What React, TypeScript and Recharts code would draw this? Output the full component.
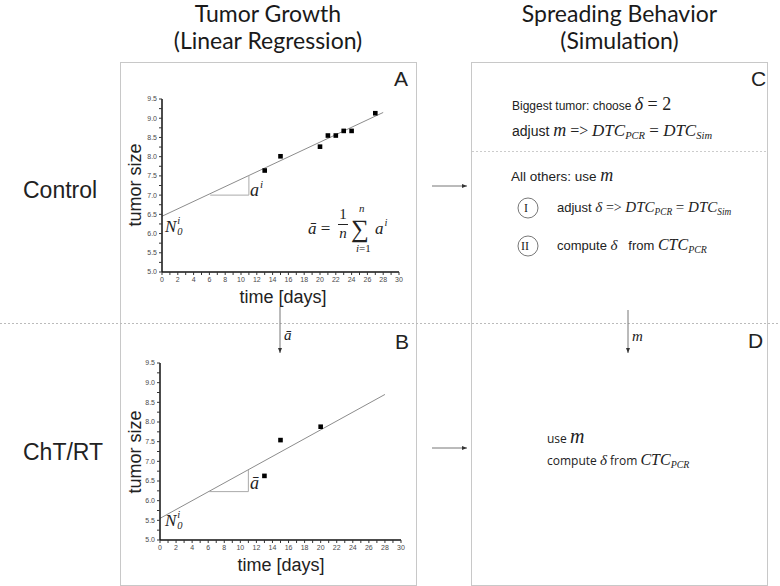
import React from "react"
import { ReferenceLine, Scatter, ScatterChart, XAxis, YAxis } from "recharts"

// tick positions (minor ticks get an empty label)
const xTicks = [0, 1, 2, 3, 4, 5, 6, 7, 8, 9, 10, 11, 12, 13, 14, 15, 16, 17, 18, 19, 20, 21, 22, 23, 24, 25, 26, 27, 28, 29, 30]
const yTicks = [5, 5.25, 5.5, 5.75, 6, 6.25, 6.5, 6.75, 7, 7.25, 7.5, 7.75, 8, 8.25, 8.5, 8.75, 9, 9.25, 9.5]

// panel A: control
const controlDays = [13, 15, 20, 21, 22, 23, 24, 27]
const controlSize = [7.64, 8.01, 8.26, 8.55, 8.55, 8.67, 8.67, 9.13]
const controlFitDays = [0, 28]
const controlFitSize = [6.45, 9.15]
const controlSlopeDays = [6.1, 11, 11]
const controlSlopeSize = [7.0, 7.0, 7.52]

// panel B: ChT/RT
const treatedDays = [13, 15, 20]
const treatedSize = [6.63, 7.54, 7.88]
const treatedFitDays = [0, 28]
const treatedFitSize = [5.55, 8.7]
const treatedSlopeDays = [6.1, 11, 11]
const treatedSlopeSize = [6.23, 6.23, 6.78]

const zip = (xs: number[], ys: number[]) => xs.map((x, i) => ({ x, y: ys[i] }))

const SANS = "'Liberation Sans', Arial, sans-serif"
const MATH = "'Liberation Serif', 'Times New Roman', serif"
const HEAD = "Lato, 'Open Sans', sans-serif"
const GRID = "#c8c8c8"

const Square = (p: any) => (
  <rect x={p.cx - 2.3} y={p.cy - 2.3} width={4.6} height={4.6} fill="#000" />
)

const fmtX = (v: number) => (v % 2 === 0 ? String(v) : "")
const fmtY = (v: number) => (Math.abs(v * 2 - Math.round(v * 2)) < 1e-6 ? v.toFixed(1) : "")

const tickStyle = { fontSize: 7, fill: "#4a4a4a", stroke: "none", fontFamily: SANS }

interface GrowthProps {
  days: number[]
  size: number[]
  fitDays: number[]
  fitSize: number[]
  slopeDays: number[]
  slopeSize: number[]
  width: number
  height: number
  margin: { top: number; right: number; bottom: number; left: number }
  yWidth: number
}

function GrowthChart(props: GrowthProps) {
  const fit = zip(props.fitDays, props.fitSize)
  const slope = zip(props.slopeDays, props.slopeSize)
  return (
    <ScatterChart width={props.width} height={props.height} margin={props.margin}>
      <XAxis
        type="number"
        dataKey="x"
        domain={[0, 30]}
        ticks={xTicks}
        interval={0}
        tickFormatter={fmtX}
        tickSize={3}
        tickMargin={2}
        height={30}
        axisLine={{ stroke: "#111", strokeWidth: 1.5 }}
        tickLine={{ stroke: "#333" }}
        tick={tickStyle}
      />
      <YAxis
        type="number"
        dataKey="y"
        domain={[5, 9.5]}
        ticks={yTicks}
        interval={0}
        tickFormatter={fmtY}
        tickSize={3}
        tickMargin={2}
        width={props.yWidth}
        axisLine={{ stroke: "#111", strokeWidth: 1.5 }}
        tickLine={{ stroke: "#333" }}
        tick={tickStyle}
      />
      <ReferenceLine segment={[fit[0], fit[1]]} stroke="#8c8c8c" strokeWidth={1} ifOverflow="visible" />
      <ReferenceLine segment={[slope[0], slope[1]]} stroke="#aaa" strokeWidth={1} ifOverflow="visible" />
      <ReferenceLine segment={[slope[1], slope[2]]} stroke="#aaa" strokeWidth={1} ifOverflow="visible" />
      <Scatter data={zip(props.days, props.size)} shape={Square} isAnimationActive={false} />
    </ScatterChart>
  )
}

const abs = (left: number, top: number, extra: React.CSSProperties = {}): React.CSSProperties => ({
  position: "absolute",
  left,
  top,
  whiteSpace: "nowrap",
  lineHeight: 1,
  ...extra,
})

const M = ({ children, size }: { children: React.ReactNode; size?: number }) => (
  <span style={{ fontFamily: MATH, fontStyle: "italic", fontSize: size }}>{children}</span>
)
const Sub = ({ children }: { children: React.ReactNode }) => (
  <span style={{ fontSize: "0.62em", verticalAlign: "-0.3em" }}>{children}</span>
)

function SubSup({ left, top, base, sup, sub, size }: any) {
  return (
    <div style={abs(left, top, { fontFamily: MATH, fontStyle: "italic", fontSize: size, display: "flex" })}>
      <span>{base}</span>
      <span style={{ display: "flex", flexDirection: "column", fontSize: size * 0.62, lineHeight: 1, marginLeft: 1 }}>
        <span style={{ marginTop: -2 }}>{sup}</span>
        <span>{sub}</span>
      </span>
    </div>
  )
}

function Arrow({ x1, y1, x2, y2 }: { x1: number; y1: number; x2: number; y2: number }) {
  const dx = Math.sign(x2 - x1)
  const dy = Math.sign(y2 - y1)
  const head =
    dx !== 0
      ? `${x2},${y2} ${x2 - dx * 5},${y2 - 2} ${x2 - dx * 5},${y2 + 2}`
      : `${x2},${y2} ${x2 - 2},${y2 - dy * 5} ${x2 + 2},${y2 - dy * 5}`
  return (
    <g>
      <line x1={x1} y1={y1} x2={x2} y2={y2} stroke="#777" strokeWidth={1} />
      <polygon points={head} fill="#333" />
    </g>
  )
}

export default function App() {
  return (
    <div style={{ position: "absolute", left: 0, top: 0, width: 780, height: 586, background: "#fff", color: "#222", fontFamily: SANS, overflow: "hidden" }}>
      {/* column headers */}
      <div style={abs(120, 0, { width: 296, textAlign: "center", fontFamily: HEAD, fontSize: 23, lineHeight: "27px", color: "#1a1a1a" })}>
        Tumor Growth<br />(Linear Regression)
      </div>
      <div style={abs(471, 0, { width: 297, textAlign: "center", fontFamily: HEAD, fontSize: 23, lineHeight: "27px", color: "#1a1a1a" })}>
        Spreading Behavior<br />(Simulation)
      </div>

      {/* row labels */}
      <div style={abs(23, 179, { fontSize: 23 })}>Control</div>
      <div style={abs(23, 441, { fontSize: 23 })}>ChT/RT</div>

      {/* frames */}
      <div style={{ position: "absolute", left: 120, top: 62, width: 295, height: 522, border: `1px solid ${GRID}` }} />
      <div style={{ position: "absolute", left: 471, top: 62, width: 295, height: 522, border: `1px solid ${GRID}` }} />

      <svg width={780} height={586} style={{ position: "absolute", left: 0, top: 0 }}>
        <line x1={0} y1={323.5} x2={780} y2={323.5} stroke="#bbb" strokeWidth={1} strokeDasharray="2 2" />
        <line x1={472} y1={151.5} x2={767} y2={151.5} stroke="#ccc" strokeWidth={1} strokeDasharray="2 2" />
        <Arrow x1={432} y1={186} x2={467} y2={186} />
        <Arrow x1={432} y1={448} x2={467} y2={448} />
        <Arrow x1={280} y1={307} x2={280} y2={353} />
        <Arrow x1={628} y1={310} x2={628} y2={353} />
        <circle cx={528} cy={208} r={10} fill="none" stroke="#555" strokeWidth={0.8} />
        <circle cx={528} cy={246} r={10} fill="none" stroke="#555" strokeWidth={0.8} />
      </svg>

      {/* panel A */}
      <div style={{ position: "absolute", left: 120, top: 62 }}>
        <GrowthChart
          days={controlDays}
          size={controlSize}
          fitDays={controlFitDays}
          fitSize={controlFitSize}
          slopeDays={controlSlopeDays}
          slopeSize={controlSlopeSize}
          width={296}
          height={258}
          margin={{ top: 37, right: 17, bottom: 18, left: 0 }}
          yWidth={42}
        />
      </div>
      {/* panel B */}
      <div style={{ position: "absolute", left: 120, top: 323 }}>
        <GrowthChart
          days={treatedDays}
          size={treatedSize}
          fitDays={treatedFitDays}
          fitSize={treatedFitSize}
          slopeDays={treatedSlopeDays}
          slopeSize={treatedSlopeSize}
          width={296}
          height={262}
          margin={{ top: 40, right: 15, bottom: 15, left: 0 }}
          yWidth={40}
        />
      </div>

      {/* axis titles */}
      <div style={abs(135, 185, { fontSize: 18, transform: "translate(-50%,-50%) rotate(-90deg)" })}>tumor size</div>
      <div style={abs(283, 297, { fontSize: 18, transform: "translate(-50%,-50%)" })}>time [days]</div>
      <div style={abs(135, 452, { fontSize: 18, transform: "translate(-50%,-50%) rotate(-90deg)" })}>tumor size</div>
      <div style={abs(281, 565, { fontSize: 18, transform: "translate(-50%,-50%)" })}>time [days]</div>

      {/* panel letters */}
      <div style={abs(394, 68, { fontSize: 21 })}>A</div>
      <div style={abs(395, 331, { fontSize: 21 })}>B</div>
      <div style={abs(751, 68, { fontSize: 21 })}>C</div>
      <div style={abs(748, 330, { fontSize: 21 })}>D</div>

      {/* annotations in A */}
      <SubSup left={250} top={181} base="a" sup="i" sub="" size={18} />
      <SubSup left={165} top={218} base="N" sup="i" sub="0" size={17} />
      <div style={abs(308, 220, { fontFamily: MATH, fontSize: 17 })}>
        <i>ā</i> =
      </div>
      <div style={abs(338, 207, { fontFamily: MATH, fontSize: 15, display: "flex", flexDirection: "column", alignItems: "center" })}>
        <span>1</span>
        <span style={{ width: 10, borderTop: "1px solid #222", margin: "2px 0 1px" }} />
        <i>n</i>
      </div>
      <div style={abs(351, 217, { fontFamily: MATH, fontSize: 25, lineHeight: "24px" })}>∑</div>
      <div style={abs(359, 203, { fontFamily: MATH, fontStyle: "italic", fontSize: 11 })}>n</div>
      <div style={abs(356, 243, { fontFamily: MATH, fontSize: 11 })}>
        <i>i</i>=1
      </div>
      <SubSup left={375} top={220} base="a" sup="i" sub="" size={17} />

      {/* annotations in B */}
      <div style={abs(250, 474, { fontFamily: MATH, fontStyle: "italic", fontSize: 18 })}>ā</div>
      <SubSup left={165} top={512} base="N" sup="i" sub="0" size={17} />
      <div style={abs(284, 328, { fontFamily: MATH, fontStyle: "italic", fontSize: 15 })}>ā</div>
      <div style={abs(632, 329, { fontFamily: MATH, fontStyle: "italic", fontSize: 15 })}>m</div>

      {/* panel C */}
      <div style={abs(512, 95, { fontSize: 12 })}>
        Biggest tumor: choose <M size={18}>δ</M>
        <span style={{ fontFamily: MATH, fontSize: 18 }}> = 2</span>
      </div>
      <div style={abs(512, 121, { fontSize: 14 })}>
        adjust <M size={18}>m</M> <span style={{ fontFamily: MATH, fontSize: 16 }}>=&gt;</span>{" "}
        <M size={17}>
          DTC<Sub>PCR</Sub>
        </M>
        <span style={{ fontFamily: MATH, fontSize: 17 }}> = </span>
        <M size={17}>
          DTC<Sub>Sim</Sub>
        </M>
      </div>
      <div style={abs(511, 166, { fontSize: 13.5 })}>
        All others: use <M size={18}>m</M>
      </div>
      <div style={abs(524, 202, { fontFamily: MATH, fontSize: 12 })}>I</div>
      <div style={abs(521, 240, { fontFamily: MATH, fontSize: 12 })}>II</div>
      <div style={abs(557, 200, { fontSize: 13 })}>
        adjust <M size={15}>δ</M> <span style={{ fontFamily: MATH, fontSize: 14 }}>=&gt;</span>{" "}
        <M size={15}>
          DTC<Sub>PCR</Sub>
        </M>
        <span style={{ fontFamily: MATH, fontSize: 15 }}> = </span>
        <M size={15}>
          DTC<Sub>Sim</Sub>
        </M>
      </div>
      <div style={abs(557, 237, { fontSize: 13 })}>
        compute <M size={15}>δ</M>&nbsp;&nbsp; from{" "}
        <M size={16}>
          CTC<Sub>PCR</Sub>
        </M>
      </div>

      {/* panel D */}
      <div style={abs(547, 426, { fontFamily: "'Open Sans', sans-serif", fontSize: 12 })}>
        use <M size={20}>m</M>
      </div>
      <div style={abs(547, 452, { fontFamily: "'Open Sans', sans-serif", fontSize: 12 })}>
        compute <M size={15}>δ</M> from{" "}
        <M size={16}>
          CTC<Sub>PCR</Sub>
        </M>
      </div>
    </div>
  )
}
